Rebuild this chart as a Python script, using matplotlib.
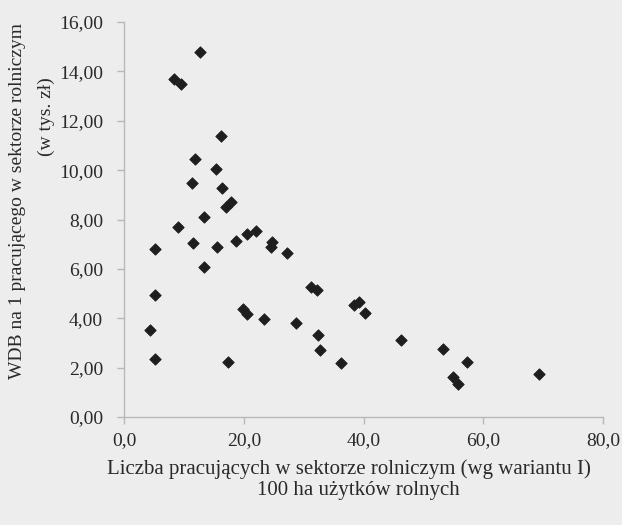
import matplotlib.pyplot as plt
from matplotlib.ticker import FuncFormatter

# liczba pracujacych na 100 ha UR (x) i WDB na 1 pracujacego (y)
pracujacy = [12.7, 8.4, 9.5, 16.2, 11.9, 15.4, 11.3, 16.3, 17.0, 17.8,
             13.4, 9.05, 5.2, 11.5, 15.5, 18.7, 20.6, 22.1, 24.7, 24.5,
             27.2, 13.3, 31.2, 32.3, 5.2, 19.8, 20.6, 23.3, 28.7, 38.4,
             39.2, 40.2, 4.4, 32.4, 32.8, 5.2, 17.4, 36.3, 46.2, 53.3,
             57.3, 54.9, 55.7, 69.3]
wdb = [14.8, 13.7, 13.5, 11.38, 10.46, 10.03, 9.47, 9.26, 8.5, 8.71,
       8.1, 7.7, 6.82, 7.03, 6.89, 7.13, 7.4, 7.54, 7.09, 6.89,
       6.65, 6.08, 5.27, 5.16, 4.96, 4.39, 4.19, 3.98, 3.81, 4.52,
       4.66, 4.21, 3.51, 3.33, 2.7, 2.36, 2.22, 2.2, 3.1, 2.77,
       2.22, 1.61, 1.35, 1.75]

x_ticks = [0, 20, 40, 60, 80]
y_ticks = [0, 2, 4, 6, 8, 10, 12, 14, 16]

plt.rcParams['font.family'] = ['Liberation Serif', 'DejaVu Serif']
bg = '#eeeded'

fig = plt.figure(figsize=(6.22, 5.25), dpi=100, facecolor=bg)
ax = fig.add_axes([124/622, 108/525, 479/622, 395/525])
ax.set_facecolor(bg)

ax.scatter(pracujacy, wdb, marker='D', s=34, color='#1e1e1e', edgecolors='#1e1e1e', linewidths=0.6, zorder=3)

ax.set_xlim(0, 80)
ax.set_ylim(0, 16)
ax.set_xticks(x_ticks)
ax.set_yticks(y_ticks)
ax.xaxis.set_major_formatter(FuncFormatter(lambda v, p: f'{v:.1f}'.replace('.', ',')))
ax.yaxis.set_major_formatter(FuncFormatter(lambda v, p: f'{v:.2f}'.replace('.', ',')))

for s in ['top', 'right']:
    ax.spines[s].set_visible(False)
for s in ['left', 'bottom']:
    ax.spines[s].set_color('#b8b8b8')
    ax.spines[s].set_linewidth(1.0)
ax.tick_params(colors='#b8b8b8', labelcolor='#2a2a2a', labelsize=14, length=5, width=1.0)
ax.tick_params(axis='y', pad=10)
ax.tick_params(axis='x', pad=6)

fig.text(349/622, 1 - 469/525, 'Liczba pracujących w sektorze rolniczym (wg wariantu I)',
         ha='center', va='center', fontsize=15, color='#2a2a2a')
fig.text(358/622, 1 - 491/525, '100 ha użytków rolnych',
         ha='center', va='center', fontsize=15, color='#2a2a2a')
fig.text(18/622, 1 - 201/525, 'WDB na 1 pracującego w sektorze rolniczym',
         ha='center', va='center', rotation=90, fontsize=14, color='#2a2a2a')
fig.text(46/622, 1 - 117/525, '(w tys. zł)',
         ha='center', va='center', rotation=90, fontsize=14, color='#2a2a2a')

fig.savefig('out.png', dpi=100, facecolor=bg)
